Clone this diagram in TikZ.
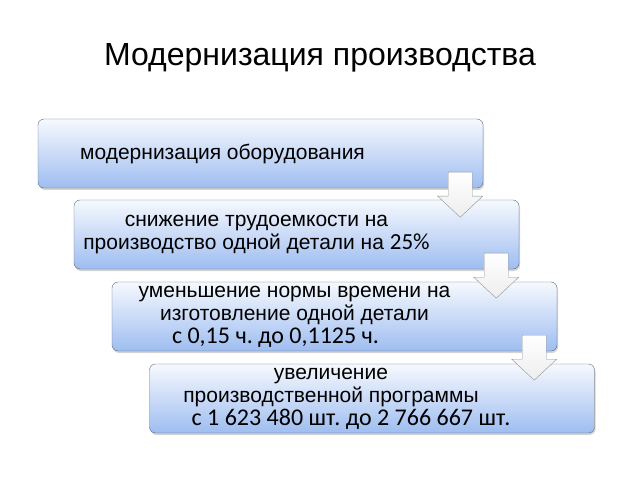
\documentclass[tikz,border=0pt]{standalone}
\usepackage{fontspec}
\setmainfont{Liberation Sans}
\newfontfamily\calfont{Carlito}
\usetikzlibrary{calc,shadows}
\frenchspacing

\definecolor{boxtop}{RGB}{246,249,254}
\definecolor{boxbot}{RGB}{158,189,240}
\definecolor{boxline}{RGB}{95,105,120}
\definecolor{arrline}{RGB}{140,145,150}

\tikzset{
    stagebox/.style={draw=boxline, rounded corners=6pt, minimum width=445pt,
        minimum height=69pt, top color=boxtop, bottom color=boxbot,
        drop shadow={shadow xshift=1pt, shadow yshift=-2pt, opacity=0.35}},
    stagetext/.style={align=center, font=\fontsize{21}{23}\selectfont,
        inner sep=0pt},
    downarrow/.style={draw=arrline, top color=white, bottom color=black!7,
        line join=miter}
}

\begin{document}
\begin{tikzpicture}[x=1pt,y=1pt]
            \useasboundingbox (0,0) rectangle (640,480);
            % title
            \node (title) at (320,422) {\fontsize{32}{36}\selectfont Модернизация производства};
            % the four stages
            \node[stagebox] (b1) at (260.5,326.5) {};
            \node[stagebox] (b2) at (296.5,245.5) {};
            \node[stagebox] (b3) at (334.5,163.5) {};
            \node[stagebox] (b4) at (372,81.5) {};
            \node[stagetext] (t1) at ($(b1.center)+(-38,0)$) {модернизация оборудования};
            \node[stagetext] (t2) at ($(b2.center)+(-40,0)$) {снижение трудоемкости на\\производство одной детали на {\calfont\fontsize{23}{23}\selectfont 25\%}};
            \node[stagetext] (t3) at ($(b3.center)+(-40,0)$) {уменьшение нормы времени на\\изготовление одной детали\\{\calfont\fontsize{24}{23}\selectfont с 0,15 ч. до 0,1125 ч.\hspace*{38pt}}};
            \node[stagetext] (t4) at ($(b4.center)+(-41,0)$) {увеличение\\производственной программы\\{\calfont\fontsize{24}{23}\selectfont\hspace*{40pt}с 1 623 480 шт. до 2 766 667 шт.}};
            % arrows between the stages
            \foreach \i in {1,2,3} {
                \coordinate (a\i) at ($(b\i.south east)+(-23,16)$);
                \draw[downarrow] (a\i) ++(-12,0) -- ++(24,0) -- ++(0,-24) -- ++(10.5,0)
                    -- ++(-22.5,-21) -- ++(-22.5,21) -- ++(10.5,0) -- cycle;
            }
\end{tikzpicture}
\end{document}
